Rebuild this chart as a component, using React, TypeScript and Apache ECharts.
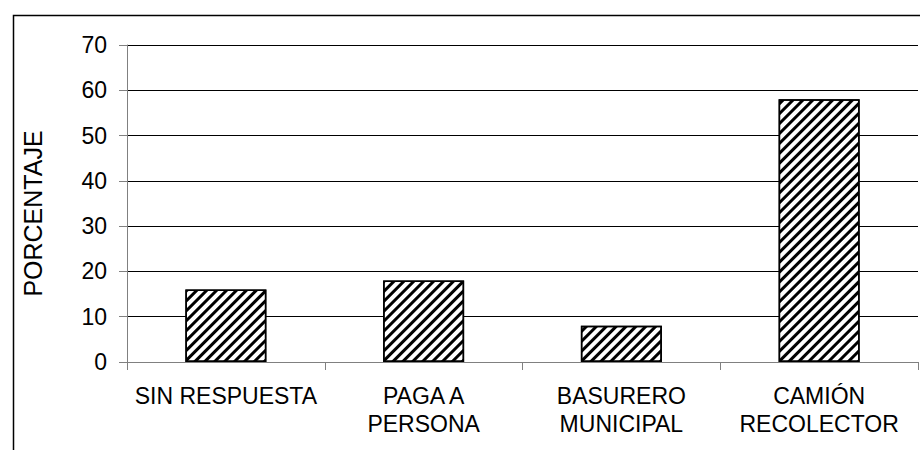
import React, { useEffect, useRef } from "react";
import * as echarts from "echarts";

const categories = ["SIN RESPUESTA", "PAGA A\nPERSONA", "BASURERO\nMUNICIPAL", "CAMIÓN\nRECOLECTOR"];
const values = [16, 18, 8, 58];
const yTicks = [0, 10, 20, 30, 40, 50, 60, 70];
const yAxisName = "PORCENTAJE";

export default function App() {
  const ref = useRef<HTMLDivElement>(null);
  useEffect(() => {
    if (!ref.current) return;
    const chart = echarts.init(ref.current, null, { renderer: "svg" });
    const font = "Liberation Sans, Arial, sans-serif";
    chart.setOption({
      animation: false,
      backgroundColor: "#ffffff",
      textStyle: { fontFamily: font },
      graphic: [
        {
          type: "rect",
          left: 11,
          top: 13,
          z: -10,
          shape: { x: 0, y: 0, width: 1000, height: 1000 },
          style: { fill: "none", stroke: "#000000", lineWidth: 1.5 },
          silent: true,
        },
      ],
      grid: { left: 127, right: 2, top: 45, bottom: 88, containLabel: false },
      xAxis: {
        type: "category",
        data: categories,
        boundaryGap: true,
        axisLine: { lineStyle: { color: "#808080", width: 1 } },
        axisTick: { show: true, length: 8, interval: 0, lineStyle: { color: "#808080" } },
        axisLabel: {
          interval: 0,
          color: "#000000",
          fontSize: 23,
          fontFamily: font,
          lineHeight: 28,
          margin: 20,
        },
        splitLine: { show: false },
      },
      yAxis: {
        type: "value",
        min: 0,
        max: 70,
        interval: 10,
        name: yAxisName,
        nameLocation: "middle",
        nameGap: 82,
        nameRotate: 90,
        nameTextStyle: {
          color: "#000000",
          fontSize: 25,
          fontFamily: font,
          padding: [0, 20, 0, 0],
        },
        axisLine: { show: true, lineStyle: { color: "#808080", width: 1 } },
        axisTick: { show: true, length: 8, lineStyle: { color: "#808080" } },
        axisLabel: {
          color: "#000000",
          fontSize: 23,
          fontFamily: font,
          margin: 20,
          formatter: (v: number) => (yTicks.includes(v) ? String(v) : ""),
        },
        splitLine: { show: true, lineStyle: { color: "#000000", width: 1 } },
      },
      series: [
        {
          type: "bar",
          data: values,
          barWidth: 81,
          itemStyle: {
            color: "#ffffff",
            borderColor: "#000000",
            borderWidth: 1.5,
            decal: {
              symbol: "rect",
              symbolSize: 1,
              color: "#000000",
              dashArrayX: [1, 0],
              dashArrayY: [3, 3.5],
              rotation: -Math.PI / 4,
            },
          },
        },
      ],
    });
    return () => chart.dispose();
  }, []);
  return (
    <div
      ref={ref}
      style={{ width: 920, height: 450, position: "fixed", left: 0, top: 0 }}
    />
  );
}
